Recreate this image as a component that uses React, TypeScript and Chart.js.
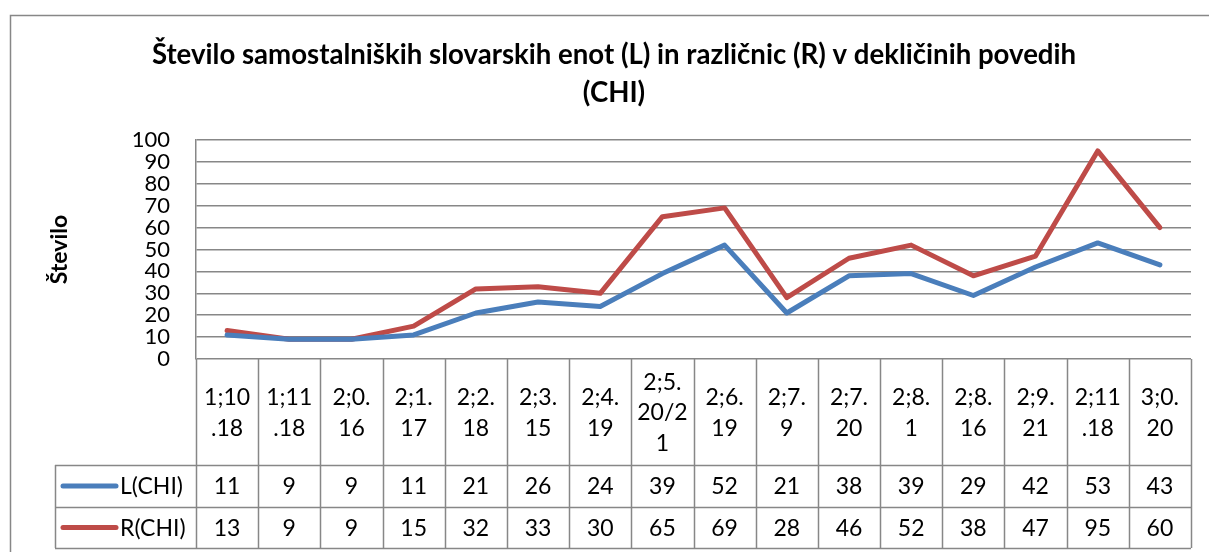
import React, { useEffect, useRef } from "react";
import { Chart, registerables } from "chart.js";

Chart.register(...registerables);

const titleLines = [
  "Število samostalniških slovarskih enot (L) in različnic (R) v dekličinih povedih",
  "(CHI)",
];
const yAxisTitle = "Število";
const categories = [
  "1;10.18", "1;11.18", "2;0.16", "2;1.17", "2;2.18", "2;3.15", "2;4.19", "2;5.20/21",
  "2;6.19", "2;7.9", "2;7.20", "2;8.1", "2;8.16", "2;9.21", "2;11.18", "3;0.20",
];
const categoryLabelLines = [
  ["1;10", ".18"], ["1;11", ".18"], ["2;0.", "16"], ["2;1.", "17"], ["2;2.", "18"],
  ["2;3.", "15"], ["2;4.", "19"], ["2;5.", "20/2", "1"], ["2;6.", "19"], ["2;7.", "9"],
  ["2;7.", "20"], ["2;8.", "1"], ["2;8.", "16"], ["2;9.", "21"], ["2;11", ".18"], ["3;0.", "20"],
];
const seriesL = [11, 9, 9, 11, 21, 26, 24, 39, 52, 21, 38, 39, 29, 42, 53, 43];
const seriesR = [13, 9, 9, 15, 32, 33, 30, 65, 69, 28, 46, 52, 38, 47, 95, 60];
const seriesNames = ["L(CHI)", "R(CHI)"];
const yTicks = { min: 0, max: 100, step: 10 };

const FONT = "Lato, 'Open Sans', sans-serif";
const GRID = "#878787";
const BLUE = "#4A7EBB";
const RED = "#BE4B48";

const framePlugin = {
  id: "frameAndTable",
  beforeDraw(chart: any) {
    const ctx = chart.ctx;
    ctx.save();
    ctx.fillStyle = "#ffffff";
    ctx.fillRect(0, 0, chart.width, chart.height);
    ctx.strokeStyle = GRID;
    ctx.lineWidth = 1.5;
    ctx.beginPath();
    ctx.moveTo(10.5, chart.height);
    ctx.lineTo(10.5, 15.5);
    ctx.lineTo(chart.width, 15.5);
    ctx.stroke();
    ctx.restore();
  },
  afterDraw(chart: any) {
    const ctx = chart.ctx;
    const area = chart.chartArea;
    const n = categories.length;
    const colW = (area.right - area.left) / n;
    const headerTop = area.bottom;
    const headerBottom = headerTop + 106;
    const row1Bottom = headerBottom + 42;
    const row2Bottom = row1Bottom + 41;
    const legendLeft = 55;

    ctx.save();
    // Title
    ctx.fillStyle = "#000";
    ctx.textAlign = "center";
    ctx.textBaseline = "middle";
    ctx.font = `bold 27.6px ${FONT}`;
    ctx.fillText(titleLines[0], 614, 55);
    ctx.fillText(titleLines[1], 614, 93);

    // Y axis title
    ctx.save();
    ctx.translate(60, (area.top + area.bottom) / 2);
    ctx.rotate(-Math.PI / 2);
    ctx.font = `bold 23px ${FONT}`;
    ctx.fillText(yAxisTitle, 0, 0);
    ctx.restore();

    // Table grid
    ctx.strokeStyle = GRID;
    ctx.lineWidth = 1.5;
    ctx.beginPath();
    for (let i = 0; i <= n; i++) {
      const x = Math.round(area.left + i * colW) + 0.5;
      ctx.moveTo(x, headerTop);
      ctx.lineTo(x, row2Bottom);
    }
    [headerBottom, row1Bottom, row2Bottom].forEach((y) => {
      ctx.moveTo(legendLeft, y + 0.5);
      ctx.lineTo(area.right, y + 0.5);
    });
    ctx.moveTo(legendLeft + 0.5, headerBottom);
    ctx.lineTo(legendLeft + 0.5, row2Bottom);
    ctx.stroke();

    // Category labels
    ctx.fillStyle = "#000";
    ctx.font = `23px ${FONT}`;
    const lh = 30.5;
    const cy = (headerTop + headerBottom) / 2 + 1;
    categoryLabelLines.forEach((lines, i) => {
      const x = chart.scales.x.getPixelForValue(i);
      const start = cy - ((lines.length - 1) * lh) / 2;
      lines.forEach((t, j) => ctx.fillText(t, x, start + j * lh));
    });

    // Data rows
    const rows = [
      { vals: seriesL, color: BLUE, name: seriesNames[0], y: (headerBottom + row1Bottom) / 2 + 1 },
      { vals: seriesR, color: RED, name: seriesNames[1], y: (row1Bottom + row2Bottom) / 2 + 1 },
    ];
    rows.forEach((r) => {
      r.vals.forEach((v, i) => {
        ctx.fillText(String(v), chart.scales.x.getPixelForValue(i), r.y);
      });
      ctx.strokeStyle = r.color;
      ctx.lineWidth = 5;
      ctx.lineCap = "round";
      ctx.beginPath();
      ctx.moveTo(63, r.y - 1);
      ctx.lineTo(116, r.y - 1);
      ctx.stroke();
      ctx.textAlign = "left";
      ctx.fillText(r.name, 120, r.y);
      ctx.textAlign = "center";
    });
    ctx.restore();
  },
};

export default function App() {
  const ref = useRef<HTMLCanvasElement | null>(null);
  useEffect(() => {
    if (!ref.current) return;
    const chart = new Chart(ref.current, {
      type: "line",
      data: {
        labels: categories,
        datasets: [
          {
            label: seriesNames[0],
            data: seriesL,
            borderColor: BLUE,
            backgroundColor: BLUE,
            borderWidth: 5,
            pointRadius: 0,
            tension: 0,
            borderJoinStyle: "round",
            borderCapStyle: "round",
          },
          {
            label: seriesNames[1],
            data: seriesR,
            borderColor: RED,
            backgroundColor: RED,
            borderWidth: 5,
            pointRadius: 0,
            tension: 0,
            borderJoinStyle: "round",
            borderCapStyle: "round",
          },
        ],
      },
      options: {
        animation: false,
        responsive: false,
        maintainAspectRatio: false,
        layout: { padding: { top: 140, right: 18, bottom: 193, left: 0 } },
        plugins: {
          legend: { display: false },
          title: { display: false },
          tooltip: { enabled: false },
        },
        scales: {
          x: {
            type: "category",
            offset: true,
            display: false,
          },
          y: {
            min: yTicks.min,
            max: yTicks.max,
            ticks: {
              stepSize: yTicks.step,
              autoSkip: false,
              padding: 26,
              color: "#000",
              font: { family: FONT, size: 22, lineHeight: 1 },
            },
            grid: { color: GRID, lineWidth: 1.5, drawTicks: false },
            border: { display: true, color: GRID, width: 1.5 },
            afterFit: (scale: any) => {
              scale.width = 196;
            },
          },
        },
      },
      plugins: [framePlugin],
    });
    return () => chart.destroy();
  }, []);
  return (
    <div style={{ position: "fixed", left: 0, top: 0, width: 1209, height: 552, background: "#fff" }}>
      <canvas ref={ref} width={1209} height={552} style={{ display: "block" }} />
    </div>
  );
}
